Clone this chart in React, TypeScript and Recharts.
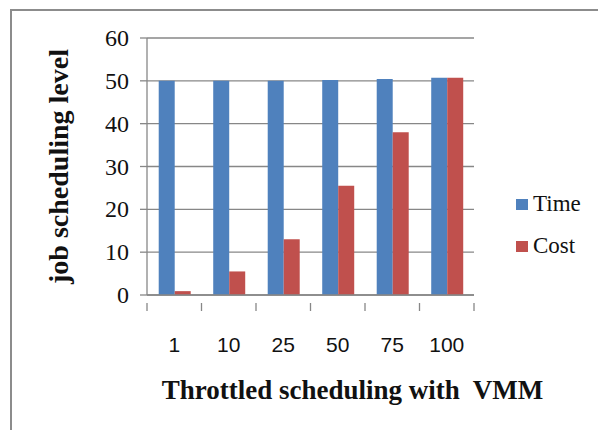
import { BarChart, Bar, XAxis, YAxis, CartesianGrid, Legend } from 'recharts';

const levels = ['1', '10', '25', '50', '75', '100'];
const timeValues = [50, 50, 50, 50.2, 50.4, 50.7];
const costValues = [0.9, 5.5, 13, 25.5, 38, 50.7];
const yTicks = [0, 10, 20, 30, 40, 50, 60];

const data = levels.map((level, i) => ({ level, time: timeValues[i], cost: costValues[i] }));

const BLUE = '#4F81BD';
const RED = '#C0504D';
const GRID = '#878787';
const SERIF = '"Liberation Serif", "Times New Roman", serif';
const SANS = '"Liberation Sans", Arial, sans-serif';

const PLOT_LEFT = 147;
const PLOT_RIGHT = 474;
const LEGEND_W = 80;
const BAND = (PLOT_RIGHT - PLOT_LEFT) / levels.length;

function XTick({ x, y, payload, index }: any) {
  const left = x - BAND / 2;
  return (
    <g>
      <line x1={left} y1={y} x2={left} y2={y + 8} stroke={GRID} strokeWidth={1.3} />
      {index === levels.length - 1 && (
        <line x1={x + BAND / 2} y1={y} x2={x + BAND / 2} y2={y + 8} stroke={GRID} strokeWidth={1.3} />
      )}
      <text x={x} y={y + 49} textAnchor="middle" style={{ fontFamily: SANS, fontSize: 21, fill: '#111' }}>
        {payload.value}
      </text>
    </g>
  );
}

function YTick({ x, y, payload }: any) {
  return (
    <g>
      <line x1={PLOT_LEFT - 7} y1={y} x2={PLOT_LEFT} y2={y} stroke={GRID} strokeWidth={1.3} />
      <text x={129} y={y + 8} textAnchor="end" style={{ fontFamily: SERIF, fontSize: 24, fill: '#111' }}>
        {payload.value}
      </text>
    </g>
  );
}

function XTitle({ viewBox }: any) {
  const cx = viewBox.x + viewBox.width / 2 + 42;
  return (
    <text
      x={cx}
      y={viewBox.y + viewBox.height - 31}
      textAnchor="middle"
      style={{ fontFamily: SERIF, fontSize: 27, fontWeight: 'bold', fill: '#111', whiteSpace: 'pre' }}
    >
      {'Throttled scheduling with  VMM'}
    </text>
  );
}

function LegendBox() {
  const items = [
    { name: 'Time', color: BLUE },
    { name: 'Cost', color: RED },
  ];
  return (
    <div style={{ width: LEGEND_W }}>
      {items.map((it) => (
        <div key={it.name} style={{ display: 'flex', alignItems: 'center', height: 42 }}>
          <div style={{ width: 12, height: 11, background: it.color, marginRight: 5 }} />
          <span style={{ fontFamily: SERIF, fontSize: 23, color: '#111' }}>{it.name}</span>
        </div>
      ))}
    </div>
  );
}

export default function App() {
  return (
    <div style={{ position: 'absolute', left: 0, top: 0, width: 598, height: 430, background: '#fff', overflow: 'hidden' }}>
      <div
        style={{
          position: 'absolute',
          left: 10,
          top: 9,
          width: 620,
          height: 450,
          border: '2px solid #8c8c8c',
          boxSizing: 'border-box',
        }}
      />
      <div style={{ position: 'absolute', left: 0, top: 0 }}>
        <BarChart
          width={598}
          height={430}
          data={data}
          margin={{ top: 38, right: 598 - PLOT_RIGHT - LEGEND_W, bottom: 0, left: 0 }}
          barCategoryGap="21.5%"
          barGap={0}
        >
          <CartesianGrid vertical={false} stroke={GRID} strokeWidth={1.3} />
          <XAxis
            dataKey="level"
            height={135}
            axisLine={{ stroke: GRID, strokeWidth: 1.3 }}
            tickLine={false}
            tick={<XTick />}
            interval={0}
            label={<XTitle />}
          />
          <YAxis
            width={PLOT_LEFT}
            domain={[0, 60]}
            ticks={yTicks}
            interval={0}
            axisLine={{ stroke: GRID, strokeWidth: 1.3 }}
            tickLine={false}
            tick={<YTick />}
            label={{
              value: 'job scheduling level',
              angle: -90,
              position: 'insideLeft',
              offset: 58,
              style: { fontFamily: SERIF, fontSize: 28, fontWeight: 'bold', fill: '#111', textAnchor: 'middle' },
            }}
          />
          <Legend
            layout="vertical"
            align="right"
            verticalAlign="middle"
            content={<LegendBox />}
            wrapperStyle={{ position: 'absolute', left: 516, top: 183, width: LEGEND_W }}
          />
          <Bar dataKey="time" name="Time" fill={BLUE} isAnimationActive={false} />
          <Bar dataKey="cost" name="Cost" fill={RED} isAnimationActive={false} />
        </BarChart>
      </div>
    </div>
  );
}
